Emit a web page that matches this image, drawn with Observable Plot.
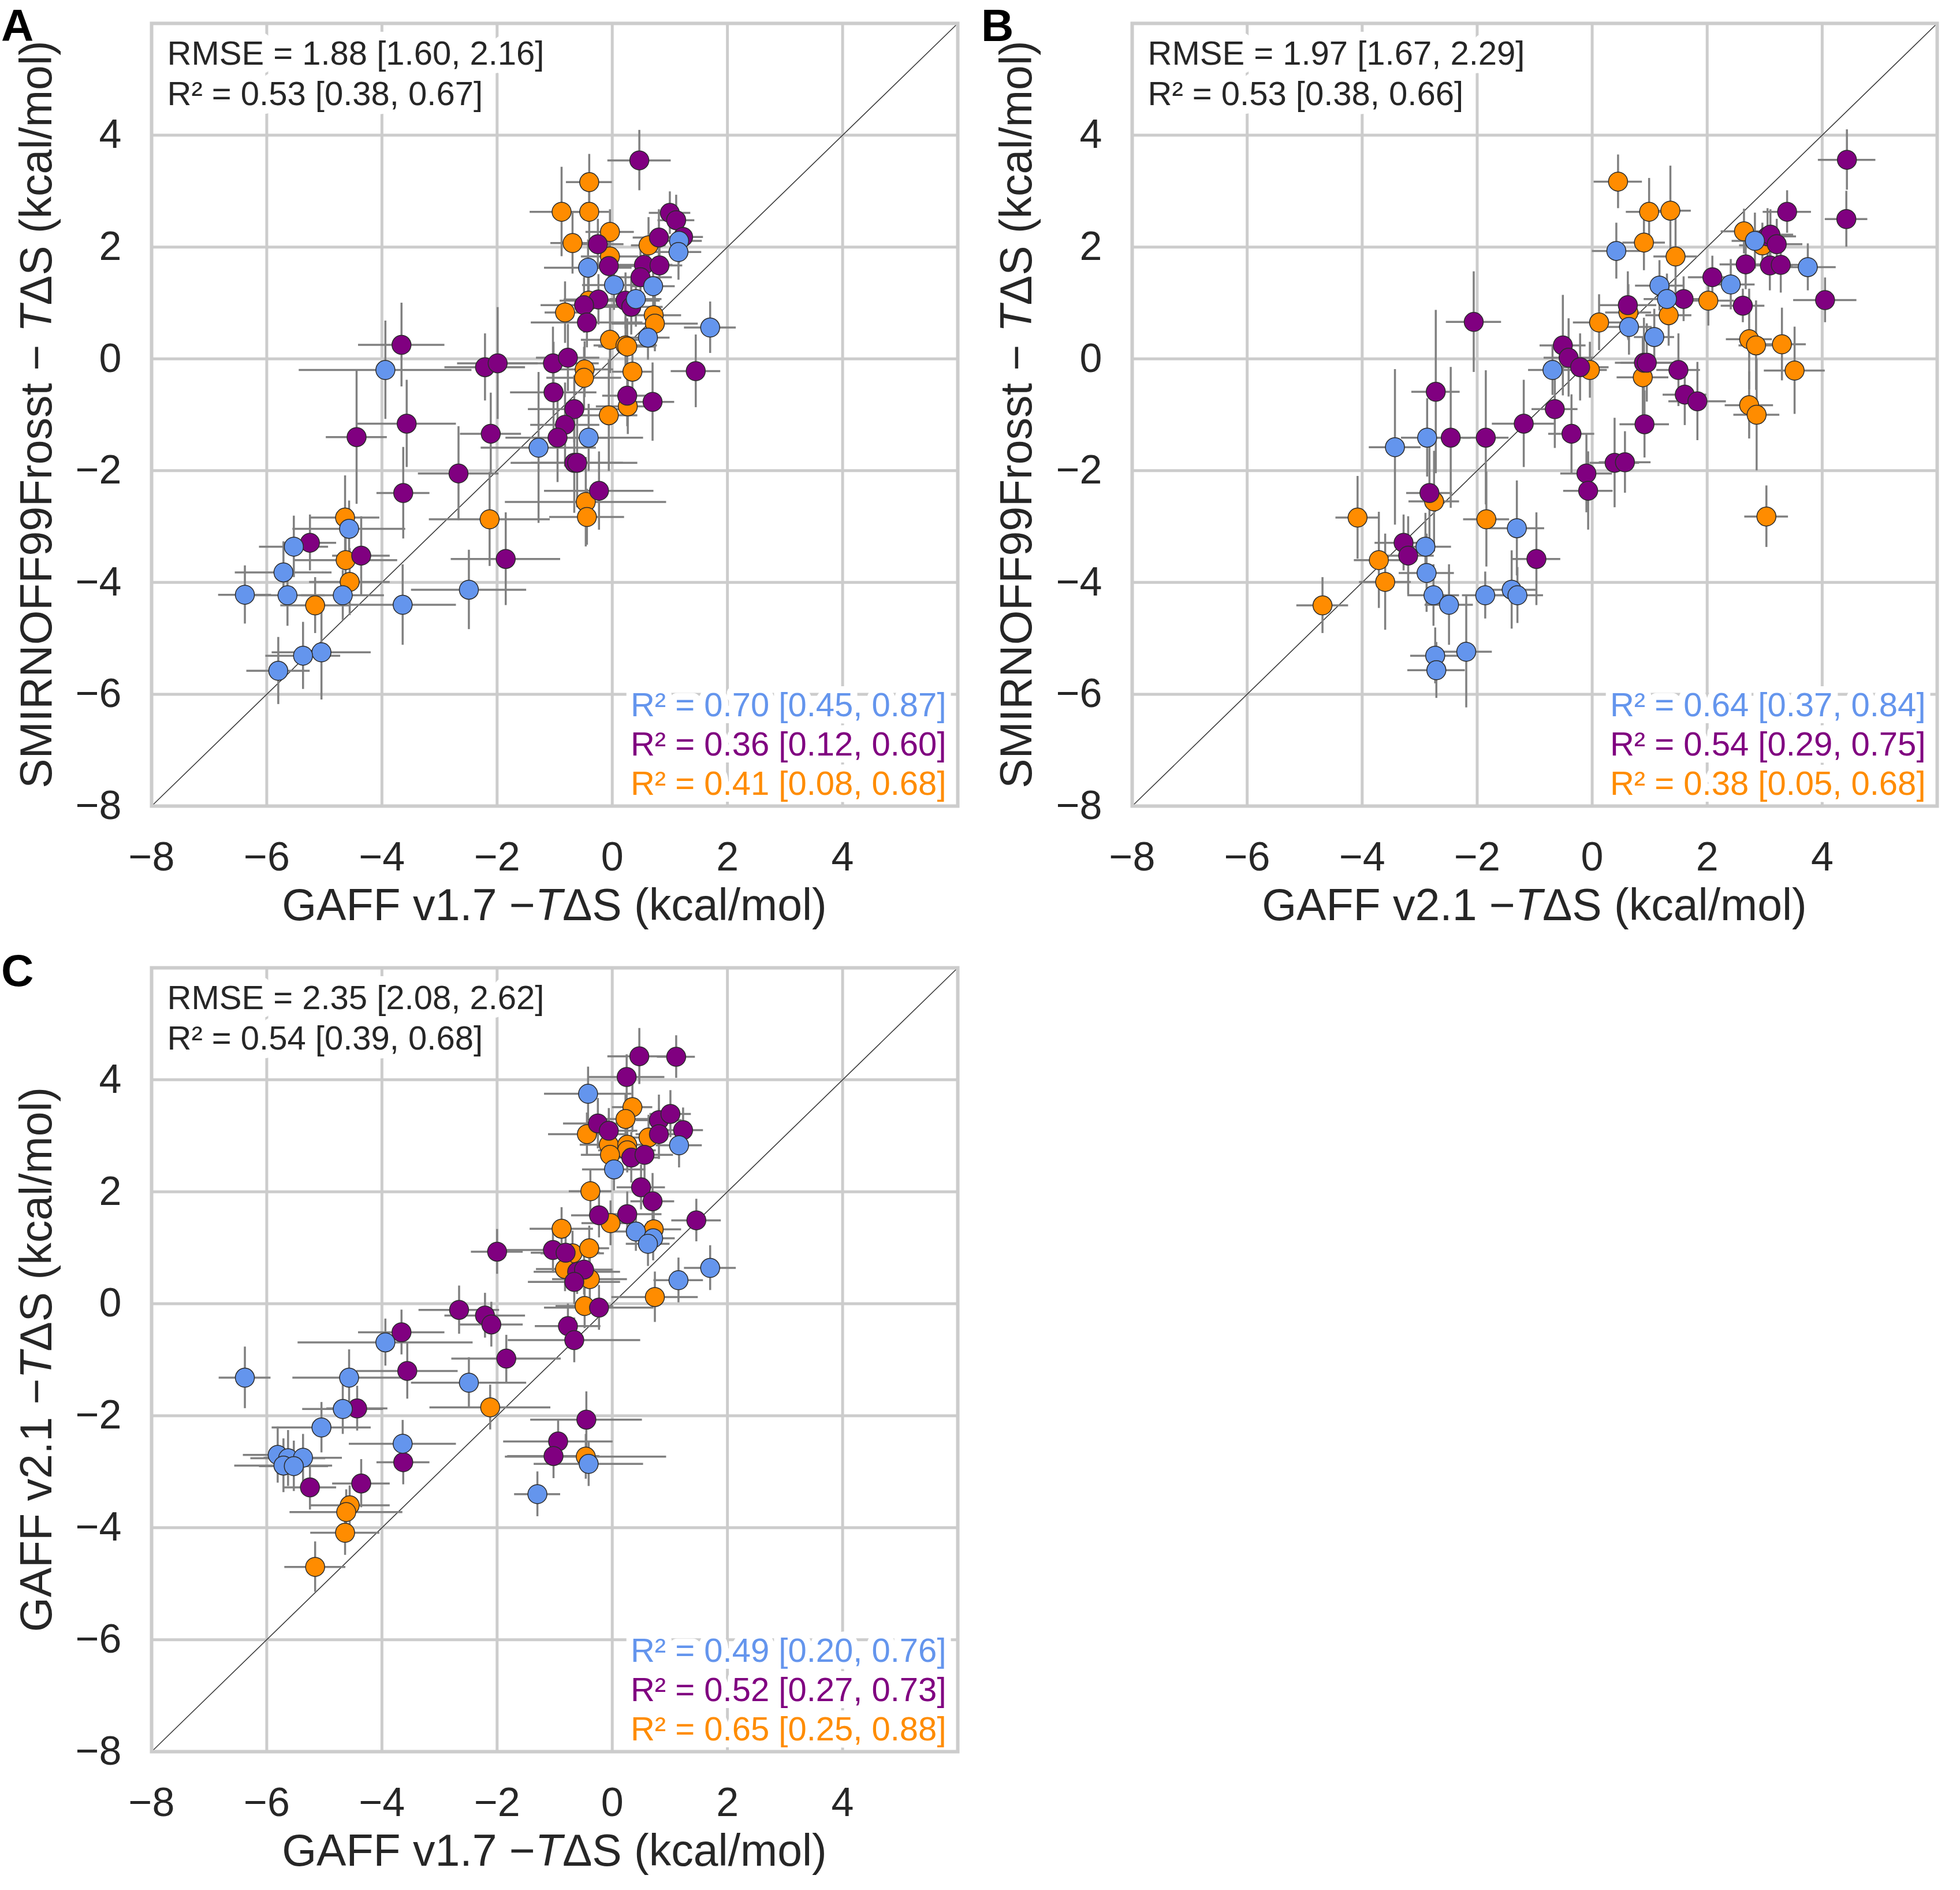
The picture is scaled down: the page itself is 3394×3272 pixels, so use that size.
<!DOCTYPE html>
<html>
<head>
<meta charset="utf-8">
<script src="https://cdn.jsdelivr.net/npm/d3@7"></script>
<script src="https://cdn.jsdelivr.net/npm/@observablehq/plot@0.6"></script>
<style>
html,body{margin:0;padding:0;background:#fff;}
#chart{position:relative;width:3394px;height:3272px;background:#fff;}
#chart .panel{position:absolute;width:1697px;height:1636px;}
#chart [aria-label^="x-axis"] text, #chart [aria-label^="y-axis"] text{font-size:70px;fill:#262626;}
</style>
</head>
<body>
<div id="chart"></div>
<script>
// ---------- shared axis / category data ----------
const axisDomain = [-8, 6];
const axisTicks = [-8, -6, -4, -2, 0, 2, 4];
const gridTicks = [-6, -4, -2, 0, 2, 4];
const groupDomain = ["B", "P", "O"];            // blue set, purple set, orange set
const groupColors = ["#6495ED", "#800080", "#FF8C00"];
const drawOrder = ["O", "P", "B"];

// ---------- panel A: GAFF v1.7 (x) vs SMIRNOFF99Frosst (y) ----------
const panelA_x = [-3.66,-3.94,-2.21,-1.99,-3.57,-4.44,-2.11,-2.67,-3.63,-2.13,-4.64,-4.57,-5.25,-5.53,-4.63,-4.36,-5.71,-4.56,-1.85,-2.49,-6.38,-5.64,-4.68,-5.16,-3.64,-5.05,-5.37,-5.80,
 0.47,-0.40,-0.88,-0.40,-0.04,-0.69,-0.25,-0.04,-0.42,-0.06,0.63,0.81,1.00,1.11,1.23,1.16,1.15,0.55,0.82,0.49,0.03,0.71,0.23,0.33,0.41,-0.24,-0.41,-0.49,-0.82,-0.44,0.72,0.74,1.70,0.62,-0.04,0.23,0.26,-1.03,-0.77,-0.48,-0.49,0.35,1.45,-1.02,0.26,0.27,0.70,-0.66,-0.06,-0.82,-0.95,-0.41,-1.28,-0.66,-0.61,-0.23,-0.46,-0.44];
const panelA_y = [0.25,-0.20,-0.15,-0.08,-1.16,-1.40,-1.34,-2.05,-2.40,-2.87,-2.84,-3.04,-3.29,-3.36,-3.60,-3.52,-3.82,-3.99,-3.58,-4.13,-4.22,-4.23,-4.23,-4.41,-4.40,-5.25,-5.31,-5.58,
 3.55,3.16,2.63,2.63,2.27,2.07,2.05,1.83,1.63,1.66,2.03,2.17,2.61,2.48,2.18,2.11,1.91,1.68,1.67,1.46,1.32,1.30,1.04,0.93,1.07,1.06,1.04,0.96,0.83,0.65,0.78,0.63,0.56,0.38,0.34,0.24,0.22,-0.08,0.02,-0.19,-0.34,-0.23,-0.22,-0.60,-0.66,-0.85,-0.77,-0.90,-1.01,-1.18,-1.41,-1.41,-1.59,-1.86,-1.86,-2.36,-2.56,-2.83];
const panelA_xerr = [0.75,1.5,0.7,0.7,0.86,0.53,0.53,0.7,0.46,1.05,0.6,0.98,0.46,0.6,0.9,0.5,0.84,0.7,0.95,1.0,0.46,0.65,0.72,0.6,0.93,0.86,0.65,0.55,
 0.55,0.4,0.55,0.35,0.42,0.38,0.45,0.5,0.76,0.5,0.3,0.45,0.36,0.32,0.35,0.4,0.4,0.5,0.4,0.55,0.55,0.38,0.6,0.55,0.45,0.6,0.5,0.75,0.35,0.97,0.48,0.75,0.45,0.38,0.5,0.55,0.5,0.8,0.55,0.5,0.65,0.35,0.43,0.75,0.43,0.55,0.38,0.8,0.5,0.6,0.9,0.95,1.0,1.1,0.8,0.95,1.4,0.65];
const panelA_yerr = [0.75,0.88,0.6,1.0,0.78,1.2,0.73,0.84,0.82,0.84,0.75,0.5,0.5,0.55,0.55,0.7,0.55,0.6,0.83,0.71,0.52,0.55,0.45,0.5,0.72,0.85,0.6,0.6,
 0.54,0.5,0.8,0.5,0.4,0.55,0.45,0.45,0.5,0.45,0.5,0.5,0.38,0.45,0.4,0.4,0.5,0.4,0.4,0.5,0.45,0.4,0.5,0.5,0.5,0.45,0.5,0.5,0.55,0.45,0.55,0.5,0.46,0.4,0.6,0.5,0.5,0.65,0.6,0.5,0.55,0.5,0.65,0.9,0.55,0.5,0.7,0.6,1.0,0.75,0.8,0.6,1.35,0.9,0.8,0.7,0.8,0.5];
const panelA_group = ["P","B","P","P","P","P","P","P","P","O","O","B","P","B","O","P","B","O","P","B","B","B","B","O","B","B","B","B",
 "P","O","O","O","O","O","P","O","B","P","O","P","P","P","P","B","B","P","P","P","B","B","P","P","B","P","O","P","O","P","O","O","B","B","O","O","O","P","P","O","O","O","P","P","P","O","P","P","O","P","P","B","B","P","P","P","O","O"];

// ---------- panel B: GAFF v2.1 (x) vs SMIRNOFF99Frosst (y) ----------
const panelB_x = [-2.06,-2.72,-3.43,-2.87,-2.46,-1.85,-1.19,-0.65,-0.51,-0.41,-0.21,-0.04,-0.69,0.12,-0.36,-0.10,-0.07,0.39,0.57,-2.83,-2.75,-4.08,-1.84,-1.31,-3.28,-3.20,-2.90,-3.71,-0.97,-2.88,-3.60,-4.69,-2.76,-2.49,-1.86,-1.40,-1.30,-2.73,-2.71,-2.19,
 4.43,4.42,0.45,0.99,1.36,3.39,2.64,3.05,3.10,3.21,2.96,2.83,0.42,0.90,1.45,2.67,3.09,3.28,3.75,2.09,2.41,1.17,1.30,1.59,2.02,2.62,4.05,0.62,0.63,0.64,1.33,1.08,2.73,2.85,3.30,3.52,0.90,0.95,0.88,1.50,1.61,1.83,2.73,2.86,0.91,3.03];
const panelB_y = [0.66,-0.59,-1.58,-1.41,-1.41,-1.41,-1.16,-0.90,0.24,0.02,-0.15,-0.20,-0.20,0.65,-1.34,-2.05,-2.36,-1.86,-1.85,-2.40,-2.55,-2.84,-2.87,-3.03,-3.29,-3.52,-3.36,-3.60,-3.58,-3.83,-3.99,-4.41,-4.23,-4.40,-4.23,-4.13,-4.23,-5.31,-5.57,-5.24,
 3.56,2.50,3.17,2.63,2.65,2.63,2.28,2.19,2.22,2.05,2.03,2.11,1.93,2.08,1.83,1.69,1.67,1.68,1.64,1.46,1.33,1.31,1.07,1.07,1.04,0.95,1.05,0.96,0.83,0.57,0.78,0.39,0.35,0.24,0.26,-0.21,-0.07,-0.07,-0.33,-0.20,-0.64,-0.76,-0.83,-1.00,-1.17,-2.82];
const panelB_xerr = [0.48,0.42,0.45,0.45,0.35,0.4,0.55,0.4,0.4,0.43,0.5,0.3,0.42,0.45,0.4,0.45,0.43,0.43,0.45,0.4,0.44,0.38,0.4,0.48,0.5,0.45,0.45,0.43,0.42,0.48,0.45,0.45,0.45,0.42,0.4,0.45,0.45,0.43,0.5,0.45,
 0.5,0.37,0.42,0.4,0.36,0.42,0.4,0.5,0.4,0.45,0.4,0.4,0.42,0.37,0.38,0.45,0.4,0.4,0.49,0.42,0.42,0.42,0.4,0.42,0.45,0.38,0.55,0.5,0.4,0.4,0.4,0.35,0.4,0.3,0.42,0.53,0.5,0.45,0.45,0.38,0.38,0.5,0.42,0.4,0.43,0.38];
const panelB_yerr = [0.9,1.46,1.39,0.7,1.26,1.2,0.78,0.7,0.9,0.7,0.6,0.5,0.45,0.5,0.7,0.7,0.7,0.8,0.55,0.9,0.9,0.74,0.85,0.85,0.5,0.7,0.6,0.86,0.83,0.7,0.86,0.5,0.55,0.72,0.42,0.7,0.5,0.5,0.5,1.0,
 0.54,0.5,0.48,0.6,0.8,0.38,0.4,0.5,0.45,0.45,0.4,0.5,0.5,0.5,0.7,0.45,0.45,0.5,0.42,0.38,0.45,0.45,0.45,0.4,0.45,0.3,0.4,0.6,0.5,0.5,0.55,0.5,0.9,0.8,0.65,0.78,0.8,0.7,0.7,0.65,0.55,0.7,0.6,1.0,0.6,0.55];
const panelB_group = ["P","P","B","B","P","P","P","P","P","P","P","O","B","O","P","P","P","P","P","P","O","O","O","B","P","P","B","O","P","B","O","O","B","B","B","B","B","B","B","B",
 "P","P","O","O","O","P","O","P","P","P","O","B","B","O","O","P","P","P","B","P","B","B","B","P","O","P","P","P","O","B","O","B","O","O","O","O","P","P","O","P","P","P","O","O","P","O"];

// ---------- panel C: GAFF v1.7 (x) vs GAFF v2.1 (y) ----------
const panelC_x = [-6.38,-2.66,-2.21,-2.10,-3.66,-3.94,-3.56,-4.57,-1.84,-2.49,-2.12,-4.68,-4.43,-5.05,-3.64,-3.63,-5.81,-5.63,-5.37,-5.71,-5.53,-5.25,-4.36,-4.56,-4.62,-4.64,-5.16,
 0.47,1.11,0.25,-0.42,0.35,0.23,-0.25,-0.44,-0.06,-0.06,0.26,0.26,-0.04,0.33,0.56,0.63,0.81,1.01,0.81,1.23,1.16,0.03,0.50,-0.38,0.70,-0.23,0.26,-0.03,-0.88,0.41,0.72,0.71,0.62,1.46,-1.03,-0.81,-0.69,-0.40,-0.82,-0.61,-0.49,-0.39,-0.66,1.70,1.15,0.74,-0.48,-0.23,-0.77,-0.66,-0.45,-0.94,-1.02,-0.46,-0.41,-1.30,-2.00];
const panelC_y = [-1.32,-0.11,-0.21,-0.37,-0.51,-0.69,-1.20,-1.32,-0.98,-1.41,-1.85,-1.88,-1.87,-2.21,-2.50,-2.83,-2.70,-2.76,-2.75,-2.89,-2.90,-3.28,-3.21,-3.60,-3.72,-4.09,-4.70,
 4.42,4.41,4.05,3.75,3.51,3.30,3.22,3.03,3.09,2.84,2.84,2.74,2.66,2.61,2.66,2.97,3.28,3.39,3.03,3.10,2.83,2.40,2.08,2.01,1.83,1.58,1.60,1.44,1.34,1.29,1.33,1.17,1.07,1.49,0.96,0.91,0.90,0.99,0.62,0.57,0.61,0.44,0.39,0.64,0.42,0.12,-0.04,-0.07,-0.40,-0.65,-2.07,-2.46,-2.72,-2.73,-2.86,-3.40,0.93];
const panelC_xerr = [0.45,0.7,0.7,0.55,0.75,1.52,0.88,0.98,0.95,1.0,1.05,0.7,0.53,0.86,0.93,0.46,0.6,0.65,0.68,0.85,0.6,0.46,0.5,0.7,0.98,0.6,0.53,
 0.55,0.33,0.66,0.76,0.35,0.4,0.6,0.67,0.5,0.5,0.4,0.5,0.5,0.5,0.5,0.3,0.4,0.36,0.4,0.35,0.4,0.55,0.42,0.37,0.38,0.48,0.6,0.5,0.55,0.45,0.48,0.38,0.38,0.43,0.8,0.6,0.55,0.35,0.5,0.75,0.5,0.65,0.8,0.45,0.43,0.75,0.5,0.95,0.57,1.15,0.97,0.95,0.8,1.4,0.95,0.4,0.45];
const panelC_yerr = [0.55,0.43,0.4,0.4,0.4,0.42,0.5,0.5,0.42,0.45,0.4,0.45,0.4,0.45,0.42,0.4,0.5,0.5,0.42,0.48,0.45,0.4,0.43,0.35,0.4,0.4,0.45,
 0.5,0.38,0.4,0.48,0.45,0.45,0.45,0.38,0.4,0.4,0.4,0.4,0.4,0.45,0.45,0.4,0.45,0.42,0.45,0.4,0.4,0.38,0.4,0.4,0.5,0.4,0.4,0.4,0.38,0.35,0.4,0.4,0.4,0.38,0.4,0.4,0.4,0.4,0.4,0.4,0.45,0.4,0.4,0.4,0.4,0.45,0.4,0.4,0.4,0.4,0.5,0.4,0.4,0.4,0.4,0.4,0.4];
const panelC_group = ["B","P","P","P","P","B","P","B","P","B","O","B","P","B","B","P","B","B","B","B","B","P","P","O","O","O","O",
 "P","P","P","B","O","O","P","O","P","O","O","O","O","P","P","O","P","P","P","P","B","B","P","O","P","P","P","O","O","B","O","B","B","P","P","P","O","O","O","P","P","O","P","B","B","O","O","P","P","P","P","P","P","O","B","B","P"];

// ---------- texts ----------
const panelLetters = ["A", "B", "C"];
const statsA = ["RMSE = 1.88 [1.60, 2.16]", "R² = 0.53 [0.38, 0.67]"];
const statsB = ["RMSE = 1.97 [1.67, 2.29]", "R² = 0.53 [0.38, 0.66]"];
const statsC = ["RMSE = 2.35 [2.08, 2.62]", "R² = 0.54 [0.39, 0.68]"];
const groupR2A = ["R² = 0.70 [0.45, 0.87]", "R² = 0.36 [0.12, 0.60]", "R² = 0.41 [0.08, 0.68]"];
const groupR2B = ["R² = 0.64 [0.37, 0.84]", "R² = 0.54 [0.29, 0.75]", "R² = 0.38 [0.05, 0.68]"];
const groupR2C = ["R² = 0.49 [0.20, 0.76]", "R² = 0.52 [0.27, 0.73]", "R² = 0.65 [0.25, 0.88]"];
const labelGAFF17 = [["GAFF v1.7 −", false], ["T", true], ["ΔS (kcal/mol)", false]];
const labelGAFF21 = [["GAFF v2.1 −", false], ["T", true], ["ΔS (kcal/mol)", false]];
const labelSMIRNOFF = [["SMIRNOFF99Frosst − ", false], ["T", true], ["ΔS (kcal/mol)", false]];

const FONT = '"Liberation Sans", Arial, Helvetica, sans-serif';
const W = 1697, H = 1636;

function makePanel(cfg) {
  const rows = cfg.x.map((x, i) => ({x, y: cfg.y[i], xe: cfg.xe[i], ye: cfg.ye[i], g: cfg.g[i]}))
    .sort((a, b) => drawOrder.indexOf(a.g) - drawOrder.indexOf(b.g));
  const fs = 58, lh = 70;
  const svg = Plot.plot({
    width: W, height: H,
    marginLeft: cfg.mL, marginRight: cfg.mR, marginTop: cfg.mT, marginBottom: cfg.mB,
    style: {fontFamily: FONT, fontSize: "70px", color: "#262626", background: "white", overflow: "visible"},
    x: {domain: axisDomain, ticks: axisTicks, tickSize: 0, tickPadding: 62, label: null},
    y: {domain: axisDomain, ticks: axisTicks, tickSize: 0, tickPadding: 52, label: null},
    color: {domain: groupDomain, range: groupColors},
    marks: [
      Plot.ruleX(gridTicks, {x: d => d, stroke: "#cccccc", strokeWidth: 5}),
      Plot.ruleY(gridTicks, {y: d => d, stroke: "#cccccc", strokeWidth: 5}),
      Plot.line(axisDomain, {x: d => d, y: d => d, stroke: "#3a3a3a", strokeWidth: 1.6}),
      Plot.ruleY(rows, {y: "y", x1: d => d.x - d.xe, x2: d => d.x + d.xe, stroke: "#808080", strokeWidth: 3.5}),
      Plot.ruleX(rows, {x: "x", y1: d => d.y - d.ye, y2: d => d.y + d.ye, stroke: "#808080", strokeWidth: 3.5}),
      Plot.dot(rows, {x: "x", y: "y", r: 16.5, fill: "g", stroke: "#2b2b2b", strokeWidth: 1.5}),
      Plot.text([cfg.stats.join("\n")], {text: d => d, frameAnchor: "top-left", dx: 27, dy: 22, fontSize: fs, lineHeight: lh / fs,
        fill: "#262626", stroke: "white", strokeWidth: 30, paintOrder: "stroke", strokeLinejoin: "round"}),
      ...cfg.r2.map((t, i) => Plot.text([t], {text: d => d, frameAnchor: "bottom-right", dx: -20, dy: -20 - (2 - i) * 68, fontSize: fs,
        fill: groupColors[i], stroke: "white", strokeWidth: 24, paintOrder: "stroke", strokeLinejoin: "round"})),
      Plot.frame({stroke: "#cccccc", strokeWidth: 6})
    ]
  });
  const s = d3.select(svg);
  const fx0 = cfg.mL, fx1 = W - cfg.mR, fy0 = cfg.mT, fy1 = H - cfg.mB;
  const xl = s.append("text").attr("x", (fx0 + fx1) / 2).attr("y", fy1 + 170).attr("dy", "0.36em")
    .attr("text-anchor", "middle").attr("font-size", 77).attr("font-family", FONT).attr("fill", "#262626");
  cfg.xLabel.forEach(([t, it]) => xl.append("tspan").attr("font-style", it ? "italic" : null).text(t));
  const yl = s.append("text").attr("transform", `translate(61,${(fy0 + fy1) / 2}) rotate(-90)`).attr("dy", "0.36em")
    .attr("text-anchor", "middle").attr("font-size", 77).attr("font-family", FONT).attr("fill", "#262626");
  cfg.yLabel.forEach(([t, it]) => yl.append("tspan").attr("font-style", it ? "italic" : null).text(t));
  s.append("text").attr("x", 2).attr("y", 71).attr("text-anchor", "start").attr("font-size", 78)
    .attr("font-weight", "bold").attr("font-family", FONT).attr("fill", "#000")
    .text(cfg.letter);
  const div = document.createElement("div");
  div.className = "panel";
  div.style.left = cfg.left + "px";
  div.style.top = cfg.top + "px";
  div.appendChild(svg);
  document.getElementById("chart").appendChild(div);
}

makePanel({x: panelA_x, y: panelA_y, xe: panelA_xerr, ye: panelA_yerr, g: panelA_group, stats: statsA, r2: groupR2A,
  xLabel: labelGAFF17, yLabel: labelSMIRNOFF, letter: panelLetters[0], left: 0, top: 0, mL: 262, mR: 39, mT: 40, mB: 241});
makePanel({x: panelB_x, y: panelB_y, xe: panelB_xerr, ye: panelB_yerr, g: panelB_group, stats: statsB, r2: groupR2B,
  xLabel: labelGAFF21, yLabel: labelSMIRNOFF, letter: panelLetters[1], left: 1697, top: 0, mL: 263, mR: 40, mT: 40, mB: 241});
makePanel({x: panelC_x, y: panelC_y, xe: panelC_xerr, ye: panelC_yerr, g: panelC_group, stats: statsC, r2: groupR2C,
  xLabel: labelGAFF17, yLabel: labelGAFF21, letter: panelLetters[2], left: 0, top: 1636, mL: 262, mR: 39, mT: 39, mB: 240});
</script>
</body>
</html>
